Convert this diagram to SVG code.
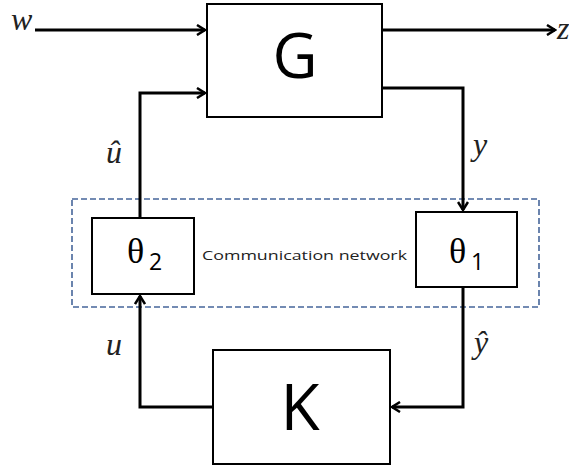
<svg xmlns="http://www.w3.org/2000/svg" width="569" height="468" viewBox="0 0 569 468">
<style>
.box{fill:#fff;stroke:#000;stroke-width:2}
.line{fill:none;stroke:#000;stroke-width:3}
.big{font-family:"Open Sans","Liberation Sans",sans-serif;fill:#000;text-anchor:middle}
.math{font-family:"Liberation Serif","DejaVu Serif",serif;font-style:italic;fill:#222;font-size:32px}
.th{font-family:"Liberation Serif","DejaVu Serif",serif;fill:#000;font-size:36px}
.sub{font-family:"Open Sans","Liberation Sans",sans-serif;font-size:23px;fill:#000}
</style>
<defs>
<marker id="arr" markerWidth="12" markerHeight="12" refX="10" refY="6" orient="auto" markerUnits="userSpaceOnUse">
<path d="M2,1 L10,6 L2,11" fill="none" stroke="#000" stroke-width="2.5"/>
</marker>
</defs>
<rect x="72" y="199" width="467" height="108" fill="none" stroke="#46669a" stroke-width="1.6" stroke-dasharray="6,3"/>
<g id="connectors">
<path class="line" d="M35,30 H205" marker-end="url(#arr)"/>
<path class="line" d="M382,30 H555" marker-end="url(#arr)"/>
<path class="line" d="M140,218 V93 H205" marker-end="url(#arr)"/>
<path class="line" d="M382,88 H463 V210" marker-end="url(#arr)"/>
<path class="line" d="M463,287 V407 H392" marker-end="url(#arr)"/>
<path class="line" d="M213,407 H140 V296" marker-end="url(#arr)"/>
</g>
<g id="G">
<rect class="box" x="207" y="4" width="175" height="113"/>
<text class="big" x="295" y="78" font-size="62">G</text>
</g>
<g id="theta2">
<rect class="box" x="92" y="218" width="102" height="76"/>
<text class="th" x="127" y="263">θ</text><text class="sub" x="149" y="270">2</text>
</g>
<g id="theta1">
<rect class="box" x="416" y="212" width="101" height="75"/>
<text class="th" x="449" y="263">θ</text><text class="sub" x="471" y="270">1</text>
</g>
<g id="K">
<rect class="box" x="213" y="350" width="177" height="114"/>
<text class="big" x="300" y="430" font-size="64">K</text>
</g>
<text x="202" y="260" font-family="'Open Sans','Liberation Sans',sans-serif" font-size="13" fill="#222" textLength="205" lengthAdjust="spacingAndGlyphs">Communication network</text>
<text class="math" x="11" y="30">w</text>
<text class="math" x="557" y="39" font-size="28">z</text>
<text class="math" x="106" y="163">û</text>
<text class="math" x="473" y="155">y</text>
<text class="math" x="106" y="355">u</text>
<text class="math" x="474" y="353">ŷ</text>
</svg>
